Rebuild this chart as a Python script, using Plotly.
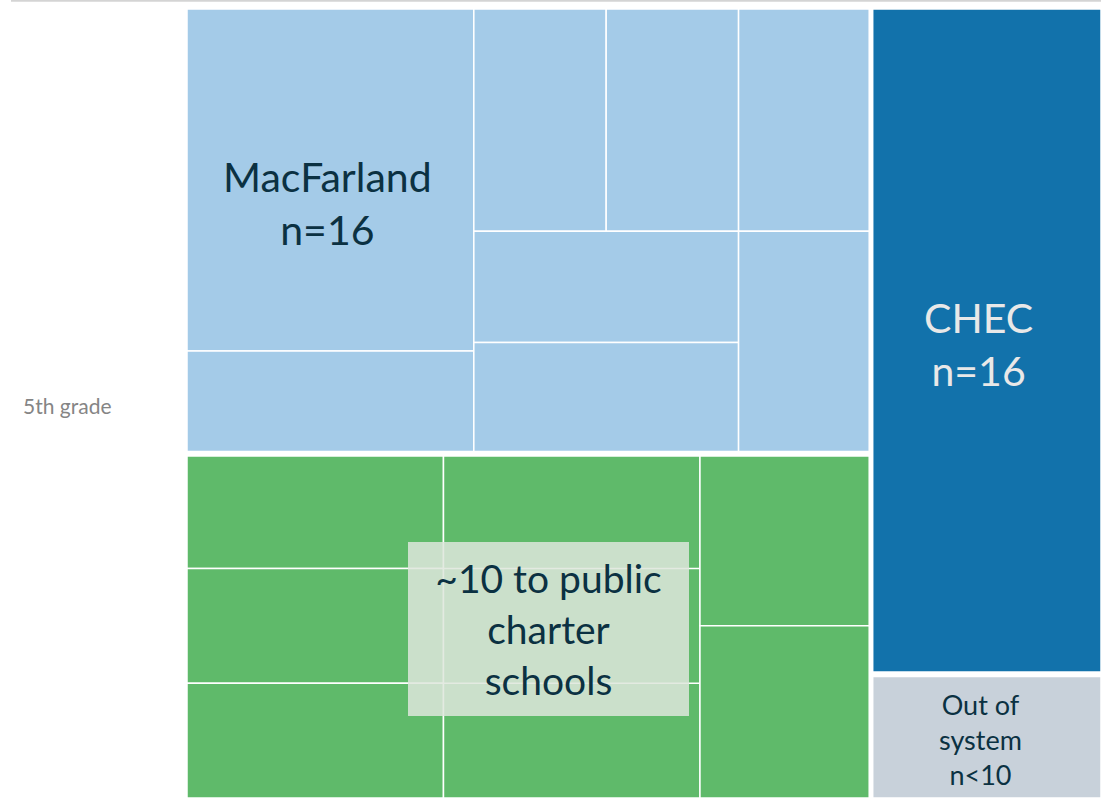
import plotly.graph_objects as go

# ---------------- data ----------------
groups = ["MacFarland", "Public charter schools", "CHEC", "Out of system"]
macfarland_tiles = [10, 3, 3, 3, 3, 3, 3, 3]      # A, B, C, D, E, F, G, H
charter_tiles = [3, 3, 3, 9, 3, 3]                # left col (3), middle (1), right col (2)
chec_value = 15.6
out_value = 2.9
row_label = "5th grade"

labels = {
    "MacFarland": "MacFarland<br>n=16",
    "CHEC": "CHEC<br>n=16",
    "Out of system": "Out of<br>system<br>n&lt;10",
    "Public charter schools": "~10 to public<br>charter<br>schools",
}

colors = {
    "MacFarland": "#a4cbe8",
    "Public charter schools": "#5fba6a",
    "CHEC": "#1272ab",
    "Out of system": "#c8d1da",
}

TEXT_DARK = "#0b3142"
FONT = "Lato"


# ---------------- layout helpers ----------------
def split(rect, values, orient):
    x0, y0, x1, y1 = rect
    tot = float(sum(values))
    out = []
    acc = 0.0
    for v in values:
        a = acc / tot
        b = (acc + v) / tot
        if orient == "h":
            out.append((x0 + (x1 - x0) * a, y0, x0 + (x1 - x0) * b, y1))
        else:
            out.append((x0, y0 + (y1 - y0) * a, x1, y0 + (y1 - y0) * b))
        acc += v
    return out


mac_sum = sum(macfarland_tiles)
cha_sum = sum(charter_tiles)

full = (0.0, 0.0, 1.0, 1.0)
left_col, right_col = split(full, [mac_sum + cha_sum, chec_value + out_value], "h")
mac_rect, cha_rect = split(left_col, [mac_sum, cha_sum], "v")
chec_rect, out_rect = split(right_col, [chec_value, out_value], "v")

# MacFarland tiles
A, B, C, D, E, F, G, H = macfarland_tiles
ab_col, rest = split(mac_rect, [A + B, C + D + E + F + G + H], "h")
tA, tB = split(ab_col, [A, B], "v")
top_row, bot_row = split(rest, [C + D + E, F + G + H], "v")
tC, tD, tE = split(top_row, [C, D, E], "h")
fg_col, tH = split(bot_row, [F + G, H], "h")
tF, tG = split(fg_col, [F, G], "v")
mac_tiles = [tA, tB, tC, tD, tE, tF, tG, tH]

# Charter tiles
c = charter_tiles
lcol, mcol, rcol = split(cha_rect, [c[0] + c[1] + c[2], c[3], c[4] + c[5]], "h")
l_tiles = split(lcol, c[0:3], "v")
r_tiles = split(rcol, c[4:6], "v")
cha_tiles = l_tiles + [mcol] + r_tiles

fig = go.Figure()
shapes = []


def add_tile(r, color):
    shapes.append(dict(type="rect", xref="x", yref="y", x0=r[0], y0=r[1], x1=r[2], y1=r[3],
                       fillcolor=color, line=dict(color="white", width=1.5), layer="below"))


for r in mac_tiles:
    add_tile(r, colors["MacFarland"])
for r in cha_tiles:
    add_tile(r, colors["Public charter schools"])
add_tile(chec_rect, colors["CHEC"])
add_tile(out_rect, colors["Out of system"])

# faint continuation of left-column tile borders inside the label box (beneath it)
for r in l_tiles[:-1]:
    shapes.append(dict(type="line", xref="x", yref="y", x0=mcol[0], x1=mcol[2], y0=r[3], y1=r[3],
                       line=dict(color="white", width=1.5), layer="above"))

# group separators
GAP = 5
shapes.append(dict(type="line", xref="x", yref="y", x0=left_col[2], x1=left_col[2], y0=0, y1=1,
                   line=dict(color="white", width=GAP), layer="above"))
shapes.append(dict(type="line", xref="x", yref="y", x0=left_col[0], x1=left_col[2],
                   y0=mac_rect[3], y1=mac_rect[3], line=dict(color="white", width=GAP + 1), layer="above"))
shapes.append(dict(type="line", xref="x", yref="y", x0=right_col[0], x1=right_col[2],
                   y0=chec_rect[3], y1=chec_rect[3], line=dict(color="white", width=GAP + 1), layer="above"))

# top divider line
shapes.append(dict(type="line", xref="paper", yref="paper", x0=(11 - 187) / 914, x1=1.0,
                   y0=1 + 8.3 / 789, y1=1 + 8.3 / 789, line=dict(color="#d4d4d4", width=2)))

fig.add_trace(go.Scatter(x=[0, 1], y=[0, 1], mode="markers", marker=dict(opacity=0),
                         hoverinfo="skip", showlegend=False))


def center(r):
    return (r[0] + r[2]) / 2, (r[1] + r[3]) / 2


annotations = []
cx, cy = center(tA)
annotations.append(dict(x=cx, y=cy, xref="x", yref="y", text=labels["MacFarland"], showarrow=False,
                        xshift=-3, yshift=-23, font=dict(family=FONT, size=41, color=TEXT_DARK)))
cx, cy = center(chec_rect)
annotations.append(dict(x=cx, y=cy, xref="x", yref="y", text=labels["CHEC"], showarrow=False,
                        xshift=-7, yshift=-2, font=dict(family=FONT, size=41, color="#e8e8e8")))
cx, cy = center(out_rect)
annotations.append(dict(x=cx, y=cy, xref="x", yref="y", text=labels["Out of system"], showarrow=False,
                        xshift=-5, yshift=-3, font=dict(family=FONT, size=27, color=TEXT_DARK)))
cx, cy = center(cha_rect)
annotations.append(dict(x=cx, y=cy, xref="x", yref="y", text=labels["Public charter schools"],
                        showarrow=False, xshift=19.5, yshift=-3, width=281, height=174,
                        bgcolor="rgba(222,230,220,0.85)", borderpad=0, borderwidth=0,
                        font=dict(family=FONT, size=39, color=TEXT_DARK)))
annotations.append(dict(x=(66.5 - 187) / 914, y=(405 - 9) / 789, xref="paper", yref="y",
                        text=row_label, showarrow=False, xanchor="center",
                        font=dict(family=FONT, size=21, color="#858585")))

fig.update_layout(
    width=1101, height=799,
    margin=dict(l=187, r=0, t=9, b=1),
    paper_bgcolor="white", plot_bgcolor="white",
    shapes=shapes, annotations=annotations,
    xaxis=dict(range=[0, 1], visible=False, fixedrange=True),
    yaxis=dict(range=[1, 0], visible=False, fixedrange=True),
    showlegend=False,
)

fig.write_html("out.html", config={"displayModeBar": False},
               post_script="document.body.style.margin='0px';document.body.style.overflow='hidden';")
